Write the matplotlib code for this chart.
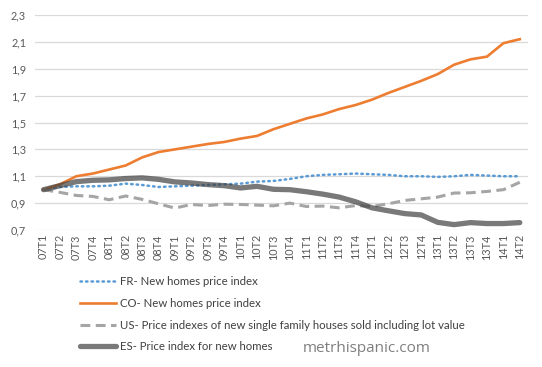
import matplotlib
matplotlib.use("Agg")
import matplotlib.pyplot as plt
from matplotlib.ticker import FixedLocator, FuncFormatter

quarters = [f"{y:02d}T{q}" for y in range(7, 15) for q in range(1, 5)][:30]

fr = [1.00, 1.02, 1.025, 1.025, 1.03, 1.045, 1.035, 1.02, 1.025, 1.03,
      1.035, 1.04, 1.045, 1.06, 1.065, 1.08, 1.10, 1.11, 1.115, 1.12,
      1.115, 1.11, 1.10, 1.10, 1.095, 1.10, 1.11, 1.105, 1.10, 1.10]
co = [1.00, 1.04, 1.10, 1.12, 1.15, 1.18, 1.24, 1.28, 1.30, 1.32,
      1.34, 1.355, 1.38, 1.40, 1.45, 1.49, 1.53, 1.56, 1.60, 1.63,
      1.67, 1.72, 1.765, 1.81, 1.86, 1.93, 1.97, 1.99, 2.09, 2.12]
us = [1.00, 0.98, 0.957, 0.95, 0.925, 0.953, 0.928, 0.895, 0.863, 0.89,
      0.882, 0.892, 0.89, 0.885, 0.88, 0.90, 0.875, 0.878, 0.865, 0.882,
      0.875, 0.895, 0.92, 0.932, 0.945, 0.975, 0.977, 0.987, 1.0, 1.055]
es = [1.00, 1.03, 1.06, 1.07, 1.073, 1.083, 1.088, 1.077, 1.058, 1.05,
      1.038, 1.03, 1.013, 1.025, 1.003, 1.0, 0.985, 0.967, 0.945, 0.91,
      0.865, 0.843, 0.822, 0.812, 0.757, 0.74, 0.755, 0.748, 0.748, 0.755]

labels = [
    "FR- New homes price index",
    "CO- New homes price index",
    "US- Price indexes of new single family houses sold including lot value",
    "ES- Price index for new homes",
]
yticks = [0.7, 0.9, 1.1, 1.3, 1.5, 1.7, 1.9, 2.1, 2.3]

plt.rcParams['font.family'] = ['Lato', 'DejaVu Sans']

fig = plt.figure(figsize=(5.42, 3.67), dpi=100)
ax = fig.add_axes([34.5/542, 1-230/367, 493.5/542, 215/367])

x = list(range(len(quarters)))
l1, = ax.plot(x, fr, color='#5B9BD5', lw=1.8, linestyle=(0, (0.6, 1.6)),
              dash_capstyle='round', label=labels[0], zorder=3)
l2, = ax.plot(x, co, color='#ED7D31', lw=1.9, label=labels[1], zorder=3,
              solid_joinstyle='round')
l3, = ax.plot(x, us, color='#A5A5A5', lw=2.2, linestyle=(0, (3.2, 1.8)),
              label=labels[2], zorder=3)
l4, = ax.plot(x, es, color='#404040', alpha=0.7, lw=3.8, label=labels[3],
              zorder=4, solid_capstyle='round', solid_joinstyle='round')

ax.set_xlim(-0.55, 29.5)
ax.set_ylim(0.7, 2.3)
ax.yaxis.set_major_locator(FixedLocator(yticks))
ax.yaxis.set_major_formatter(FuncFormatter(lambda v, p: f"{v:.1f}".replace('.', ',')))
ax.set_xticks(x)
ax.set_xticklabels(quarters, rotation=90, fontsize=7.8, color='#595959')
ax.tick_params(axis='y', labelsize=7.8, labelcolor='#595959', length=0, pad=6)
ax.tick_params(axis='x', length=0, pad=3)
ax.grid(axis='y', color='#D9D9D9', lw=0.9)
ax.set_axisbelow(True)
for s in ax.spines.values():
    s.set_visible(False)

leg = fig.legend(handles=[l1, l2, l3, l4], loc='upper left',
                 bbox_to_anchor=(80/542, 1-276/367), frameon=False,
                 fontsize=8.2, handlelength=3.2, handletextpad=0.3,
                 labelspacing=0.95, borderaxespad=0, borderpad=0)
for t in leg.get_texts():
    t.set_color('#404040')

fig.text(367/542, 1-349/367, "metrhispanic.com", family='Open Sans',
         fontsize=11, color='#7F7F7F', ha='center', va='center')

fig.savefig("out.png", dpi=100)
